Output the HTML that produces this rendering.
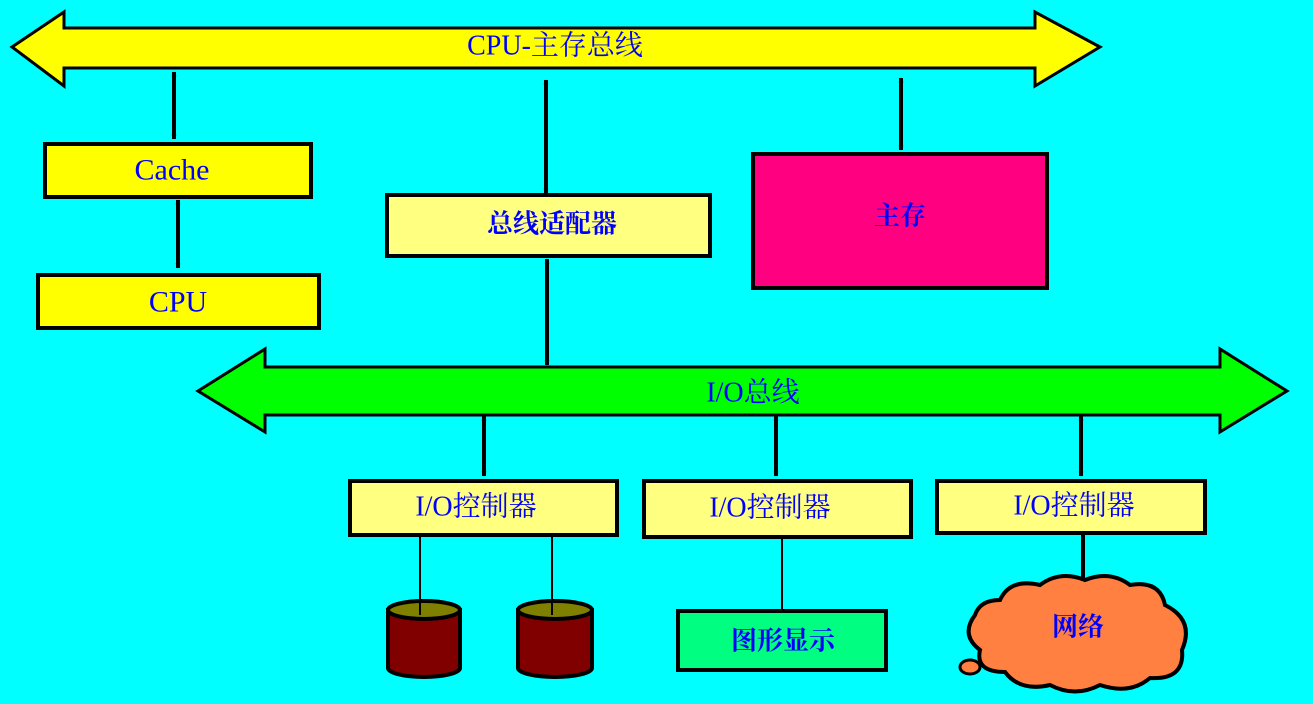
<!DOCTYPE html>
<html><head><meta charset="utf-8"><style>
html,body{margin:0;padding:0;background:#00ffff;}
svg{display:block}
text{font-family:"Liberation Serif","Noto Serif CJK SC",serif;fill:#0000ff;text-anchor:middle;dominant-baseline:central}
</style></head><body>
<svg width="1313" height="704" viewBox="0 0 1313 704" xmlns="http://www.w3.org/2000/svg">
<defs>
<marker id="ah" viewBox="0 0 10 10" refX="9" refY="5" markerWidth="5" markerHeight="7" orient="auto-start-reverse" markerUnits="userSpaceOnUse">
<path d="M0,0 L10,5 L0,10 L3,5 Z" fill="#000"/></marker>
</defs>
<rect width="1313" height="704" fill="#00ffff"/>
<!-- top bus -->
<polygon points="12,47 64,12 64,28 1035,28 1035,12 1100,47 1035,86 1035,68 64,68 64,86" fill="#ffff00" stroke="#000" stroke-width="3"/>
<text x="555" y="46" font-size="28">CPU-主存总线</text>
<!-- io bus -->
<polygon points="198,391 265,349 265,367 1220,367 1220,349 1287,391 1220,432 1220,415 265,415 265,432" fill="#00ff00" stroke="#000" stroke-width="3"/>
<text x="753" y="393" font-size="28">I/O总线</text>
<!-- vertical double arrows -->
<g stroke="#000" stroke-width="4">
<line x1="174" y1="72" x2="174" y2="139" marker-start="url(#ah)" marker-end="url(#ah)"/>
<line x1="178" y1="200" x2="178" y2="268" marker-start="url(#ah)" marker-end="url(#ah)"/>
<line x1="546" y1="80" x2="546" y2="193" marker-start="url(#ah)" marker-end="url(#ah)"/>
<line x1="547" y1="259" x2="547" y2="365" marker-start="url(#ah)" marker-end="url(#ah)"/>
<line x1="901" y1="78" x2="901" y2="150" marker-start="url(#ah)" marker-end="url(#ah)"/>
<line x1="484" y1="416" x2="484" y2="476" marker-start="url(#ah)" marker-end="url(#ah)"/>
<line x1="776" y1="416" x2="776" y2="476" marker-start="url(#ah)" marker-end="url(#ah)"/>
<line x1="1081" y1="416" x2="1081" y2="476" marker-start="url(#ah)" marker-end="url(#ah)"/>
</g>
<g stroke="#000" stroke-width="2">
<line x1="420" y1="535" x2="420" y2="614"/>
<line x1="552" y1="535" x2="552" y2="614"/>
<line x1="782" y1="537" x2="782" y2="611"/>
</g>
<line x1="1083" y1="533" x2="1083" y2="582" stroke="#000" stroke-width="4"/>
<!-- boxes -->
<g stroke="#000" stroke-width="4">
<rect x="45" y="144" width="266" height="53" fill="#ffff00"/>
<rect x="38" y="275" width="281" height="53" fill="#ffff00"/>
<rect x="387" y="195" width="323" height="61" fill="#ffff80"/>
<rect x="753" y="154" width="294" height="134" fill="#ff0080"/>
<rect x="350" y="481" width="267" height="54" fill="#ffff80"/>
<rect x="644" y="481" width="267" height="56" fill="#ffff80"/>
<rect x="937" y="481" width="268" height="52" fill="#ffff80"/>
<rect x="678" y="611" width="208" height="59" fill="#00ff80"/>
</g>
<text x="172" y="170" font-size="30">Cache</text>
<text x="178" y="302" font-size="30">CPU</text>
<text x="552" y="224" font-size="26" font-weight="bold">总线适配器</text>
<text x="900" y="216" font-size="26" font-weight="bold">主存</text>
<text x="476" y="507" font-size="28">I/O控制器</text>
<text x="770" y="508" font-size="28">I/O控制器</text>
<text x="1074" y="506" font-size="28">I/O控制器</text>
<text x="783" y="641" font-size="26" font-weight="bold">图形显示</text>
<!-- cylinders -->
<g stroke="#000" stroke-width="4">
<path d="M388,610 L388,668 A36,9 0 0 0 460,668 L460,610 Z" fill="#800000"/>
<ellipse cx="424" cy="610" rx="36" ry="9" fill="#808000"/>
<path d="M518,610 L518,668 A37,9 0 0 0 592,668 L592,610 Z" fill="#800000"/>
<ellipse cx="555" cy="610" rx="37" ry="9" fill="#808000"/>
</g>
<line x1="420" y1="600" x2="420" y2="615" stroke="#000" stroke-width="2"/>
<line x1="552" y1="600" x2="552" y2="615" stroke="#000" stroke-width="2"/>
<!-- cloud -->
<path d="M1000,600 Q1010,578 1040,585 Q1060,570 1085,580 Q1110,570 1130,585 Q1160,580 1165,605 Q1195,620 1182,650 Q1185,680 1150,678 Q1130,695 1100,685 Q1075,698 1050,685 Q1020,692 1005,672 Q975,672 980,650 Q960,635 975,615 Q980,600 1000,600 Z" fill="#ff8040" stroke="#000" stroke-width="4"/>
<ellipse cx="970" cy="667" rx="10" ry="7" fill="#ff8040" stroke="#000" stroke-width="3"/>
<text x="1078" y="627" font-size="26" font-weight="bold">网络</text>
</svg>
</body></html>
